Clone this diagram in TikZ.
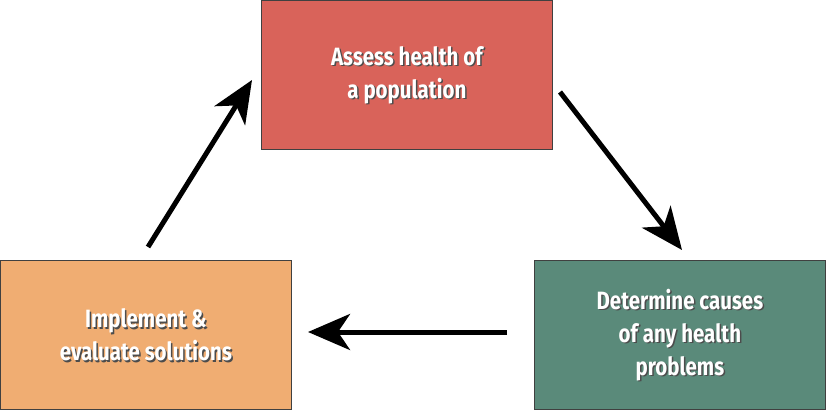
\documentclass[tikz,border=0pt]{standalone}
\usepackage{fontspec}
\setmainfont{Fira Sans}[FakeStretch=0.82]
\usetikzlibrary{arrows.meta}
\begin{document}
\begin{tikzpicture}[x=1pt,y=1pt,
  box/.style={draw=black!75,line width=0.8pt,minimum width=291pt,minimum height=149pt,anchor=north west,inner sep=0},
  txt/.style={text=white,font=\fontsize{25}{33}\selectfont\bfseries,align=center},
  shad/.style={text=black!70,font=\fontsize{25}{33}\selectfont\bfseries,align=center},
  arr/.style={line width=5pt,-{Stealth[length=42pt,width=36pt,inset=12pt]}}]
\useasboundingbox (0,0) rectangle (826,410);
\definecolor{cred}{HTML}{D9635A}
\definecolor{corange}{HTML}{F0AD72}
\definecolor{cgreen}{HTML}{5A8A7A}
\node[box,fill=cred] (top) at (261,410) {};
\node[box,fill=corange] (left) at (0,150) {};
\node[box,fill=cgreen] (right) at (534,150) {};
\foreach \n/\t in {top/{Assess health of\\a population},left/{Implement \&\\evaluate solutions},right/{Determine causes\\of any health\\problems}}{
  \node[shad] at ([shift={(1.5,-1.5)}]\n.center) {\t};
  \node[txt] at (\n.center) {\t};
}
\coordinate (a1) at (560,318); \coordinate (a2) at (682,160);
\coordinate (b1) at (507,78); \coordinate (b2) at (308,78);
\coordinate (c1) at (148,163); \coordinate (c2) at (252,330);
\draw[arr] (a1) -- (a2);
\draw[arr] (b1) -- (b2);
\draw[arr] (c1) -- (c2);
\end{tikzpicture}
\end{document}
